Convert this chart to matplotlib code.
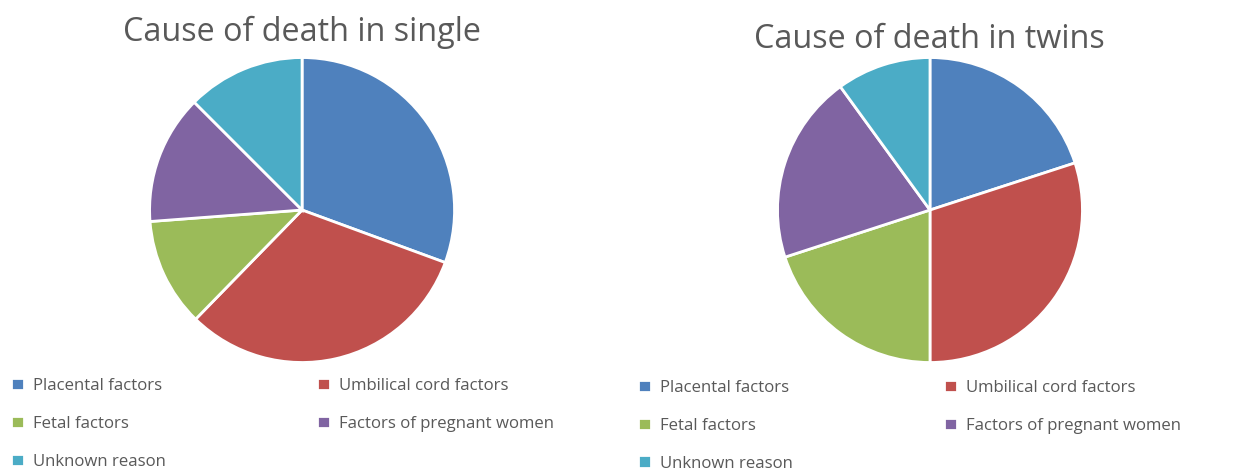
import matplotlib.pyplot as plt

# Causes of death (share of cases)
causes = ["Placental factors", "Umbilical cord factors", "Fetal factors",
          "Factors of pregnant women", "Unknown reason"]
single = [30.6, 31.7, 11.5, 13.7, 12.5]
twins = [20, 30, 20, 20, 10]
colors = ["#4F81BD", "#C0504D", "#9BBB59", "#8064A2", "#4BACC6"]

plt.rcParams["font.family"] = ["Open Sans", "DejaVu Sans"]
text_color = "#595959"

fig = plt.figure(figsize=(12.38, 4.70), dpi=100)

# left pie
ax1 = fig.add_axes([0.1196, 0.2255, 0.2488, 0.6553])
w1, _ = ax1.pie(single, colors=colors, startangle=90, counterclock=False,
                wedgeprops=dict(edgecolor="white", linewidth=2))
ax1.set_xlim(-1.01, 1.01)
ax1.set_ylim(-1.01, 1.01)
fig.text(0.244, 0.966, "Cause of death in single", ha="center", va="top",
         fontsize=23.3, color=text_color)

# right pie
ax2 = fig.add_axes([0.6268, 0.2255, 0.2488, 0.6553])
w2, _ = ax2.pie(twins, colors=colors, startangle=90, counterclock=False,
                wedgeprops=dict(edgecolor="white", linewidth=2))
ax2.set_xlim(-1.01, 1.01)
ax2.set_ylim(-1.01, 1.01)
fig.text(0.751, 0.951, "Cause of death in twins", ha="center", va="top",
         fontsize=23.3, color=text_color)

# legends: row-major order, so feed matplotlib column by column
order = [0, 2, 4, 1, 3]
for wedges, x0, y0 in [(w1, 0.0089, 0.196), (w2, 0.5154, 0.192)]:
    leg = fig.legend([wedges[i] for i in order], [causes[i] for i in order],
                     loc="upper left", bbox_to_anchor=(x0, y0), ncol=2,
                     frameon=False, fontsize=12.1, handlelength=0.75,
                     handleheight=0.75, handletextpad=0.55, borderpad=0,
                     borderaxespad=0, columnspacing=9.0, labelspacing=1.3)
    for t in leg.get_texts():
        t.set_color(text_color)

fig.savefig("out.png", dpi=100)
